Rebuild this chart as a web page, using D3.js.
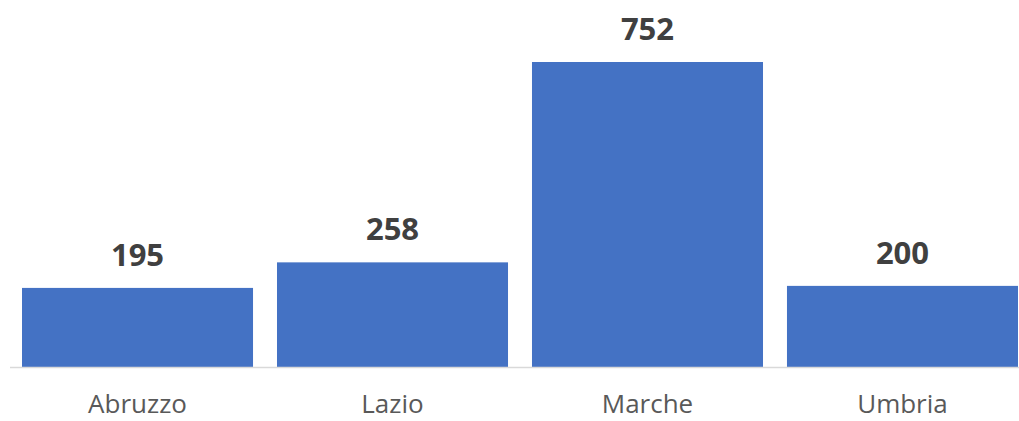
<html>
  <head>
    <script src="https://d3js.org/d3.v7.min.js"></script>
    <style>
      body { margin: 0; background: #fff; }
      text { font-family: "Open Sans", sans-serif; }
    </style>
  </head>
  <body>
    <svg id="svg1" width="1019" height="421"></svg>
    <script>
      const regions = ["Abruzzo", "Lazio", "Marche", "Umbria"];
      const counts = [195, 258, 752, 200];

      const svg = d3.select("svg#svg1");
      const baseline = 367;

      const scaleX = d3
        .scaleBand()
        .domain(regions)
        .range([0, 1040])
        .paddingInner(0.094)
        .paddingOuter(0.0863);

      const scaleY = d3.scaleLinear().domain([0, 752]).range([baseline, 62]);

      // bars
      svg
        .selectAll("rect.bar")
        .data(regions)
        .join("rect")
        .attr("class", "bar")
        .attr("x", (d) => scaleX(d))
        .attr("width", scaleX.bandwidth())
        .attr("y", (d, i) => scaleY(counts[i]))
        .attr("height", (d, i) => baseline - scaleY(counts[i]))
        .attr("fill", "#4472C4");

      // axis line
      svg
        .append("line")
        .attr("x1", 10)
        .attr("x2", 1019)
        .attr("y1", baseline + 0.5)
        .attr("y2", baseline + 0.5)
        .attr("stroke", "#d9d9d9")
        .attr("stroke-width", 1.5);

      // value labels
      svg
        .selectAll("text.value")
        .data(regions)
        .join("text")
        .attr("class", "value")
        .attr("x", (d) => scaleX(d) + scaleX.bandwidth() / 2)
        .attr("y", (d, i) => scaleY(counts[i]) - 22)
        .attr("text-anchor", "middle")
        .attr("font-size", 31)
        .attr("font-weight", "bold")
        .attr("fill", "#404040")
        .text((d, i) => counts[i]);

      // category labels
      svg
        .selectAll("text.cat")
        .data(regions)
        .join("text")
        .attr("class", "cat")
        .attr("x", (d) => scaleX(d) + scaleX.bandwidth() / 2)
        .attr("y", 413)
        .attr("text-anchor", "middle")
        .attr("font-size", 26)
        .attr("fill", "#595959")
        .text((d) => d);
    </script>
  </body>
</html>
